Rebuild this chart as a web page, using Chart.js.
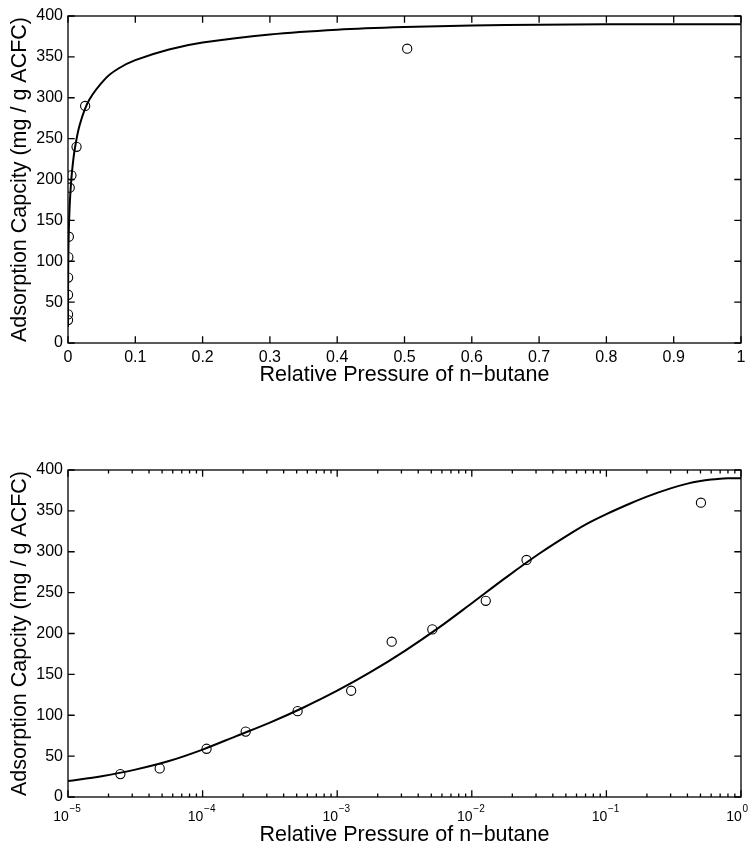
<!DOCTYPE html>
<html><head><meta charset="utf-8">
<script src="https://cdn.jsdelivr.net/npm/chart.js@4"></script>
<style>
html,body{margin:0;padding:0;background:#fff;}
#wrap{position:relative;width:752px;height:846px;overflow:hidden;}
.box{position:absolute;left:0;width:752px;height:423px;}
canvas{display:block;}
</style></head><body>
<div id="wrap">
<div class="box" style="top:0"><canvas id="c1" width="752" height="423"></canvas></div>
<div class="box" style="top:423px"><canvas id="c2" width="752" height="423"></canvas></div>
</div>
<script>
// measured data points
const pressure = [2.45e-5, 4.8e-5, 1.07e-4, 2.09e-4, 5.08e-4, 1.27e-3, 2.54e-3, 5.09e-3, 1.27e-2, 2.55e-2, 0.504];
const capacity = [28, 35, 59, 80, 105, 130, 190, 205, 240, 290, 360];

// fitted curve
const fitPressure = [1e-5, 1.778e-5, 3.162e-5, 5.623e-5, 1e-4, 1.778e-4, 3.162e-4, 5.623e-4,
  1e-3, 1.778e-3, 3.162e-3, 5.623e-3, 1e-2, 1.778e-2, 3.162e-2, 5.623e-2, 0.075, 0.1,
  0.15, 0.2, 0.3, 0.4, 0.5, 0.6, 0.7, 0.8, 0.9, 1.0];
const fitCapacity = [19.5, 25.5, 33.5, 44, 58, 74.5, 91, 109.5,
  130, 153, 178.5, 206.5, 237, 268, 297.5, 324, 335.8, 346,
  359, 367.5, 377.5, 383.3, 386.5, 388.3, 389.3, 389.8, 390, 390];

// tick labels
const yTickLabels = ['0','50','100','150','200','250','300','350','400'];
const xLinTickLabels = ['0','0.1','0.2','0.3','0.4','0.5','0.6','0.7','0.8','0.9','1'];
const logMajorValues = [1e-5, 1e-4, 1e-3, 1e-2, 1e-1, 1];
const logExponents = ['\u22125','\u22124','\u22123','\u22122','\u22121','0'];

const xTitle = 'Relative Pressure of n\u2212butane';
const yTitle = 'Adsorption Capcity (mg / g ACFC)';

const FAMILY = "'Liberation Sans', Arial, Helvetica, sans-serif";
const MAJ = 6.7, MIN = 3.5;

function boxPlugin(isLog){
  return {
    id: 'matlabBox',
    afterDatasetsDraw(chart){
      const {ctx, chartArea: a, scales: {x, y}} = chart;
      ctx.save();
      ctx.strokeStyle = '#000';
      ctx.lineWidth = 1.3;
      ctx.beginPath();
      y.ticks.forEach(t => {
        const py = y.getPixelForValue(t.value);
        ctx.moveTo(a.left, py); ctx.lineTo(a.left + MAJ, py);
        ctx.moveTo(a.right, py); ctx.lineTo(a.right - MAJ, py);
      });
      if (isLog) {
        const e0 = Math.floor(Math.log10(x.min) + 1e-9);
        const e1 = Math.round(Math.log10(x.max));
        for (let e = e0; e <= e1; e++) {
          for (let k = 1; k < 10; k++) {
            const v = k * Math.pow(10, e);
            if (v < x.min * 0.999 || v > x.max * 1.001) continue;
            const px = x.getPixelForValue(v);
            const L = k === 1 ? MAJ : MIN;
            ctx.moveTo(px, a.bottom); ctx.lineTo(px, a.bottom - L);
            ctx.moveTo(px, a.top); ctx.lineTo(px, a.top + L);
          }
        }
      } else {
        x.ticks.forEach(t => {
          const px = x.getPixelForValue(t.value);
          ctx.moveTo(px, a.bottom); ctx.lineTo(px, a.bottom - MAJ);
          ctx.moveTo(px, a.top); ctx.lineTo(px, a.top + MAJ);
        });
      }
      ctx.stroke();
      ctx.strokeRect(a.left, a.top, a.right - a.left, a.bottom - a.top);
      if (isLog) {
        ctx.fillStyle = '#000';
        ctx.textBaseline = 'middle';
        logMajorValues.forEach((v, i) => {
          const px = x.getPixelForValue(v);
          ctx.font = '14px ' + FAMILY;
          ctx.textAlign = 'right';
          ctx.fillText('10', px + 0.8, a.bottom + 20.5);
          ctx.font = '10px ' + FAMILY;
          ctx.textAlign = 'left';
          ctx.fillText(logExponents[i], px + 1.5, a.bottom + 12);
        });
      }
      ctx.restore();
    }
  };
}

function makeChart(id, isLog){
  const points = pressure.map((p, i) => ({x: p, y: capacity[i]}));
  const curve = fitPressure.map((p, i) => ({x: p, y: fitCapacity[i]}));
  const titleFont = {family: FAMILY, size: 21.5, lineHeight: 1};
  const tickFont = {family: FAMILY, size: 16};
  return new Chart(document.getElementById(id), {
    type: 'line',
    data: {
      datasets: [
        {label: 'data', data: points, showLine: false, pointStyle: 'circle', pointRadius: 4.6,
         pointBorderWidth: 1.1, pointBorderColor: '#000', pointBackgroundColor: 'rgba(0,0,0,0)',
         pointHoverRadius: 4.6},
        {label: 'fit', data: curve, showLine: true, pointRadius: 0, borderColor: '#000', borderWidth: 2,
         tension: 0.35, fill: false}
      ]
    },
    options: {
      responsive: false,
      animation: false,
      devicePixelRatio: 1,
      events: [],
      layout: {padding: {top: isLog ? 47 : 16, right: 11, left: 0, bottom: 0}},
      plugins: {legend: {display: false}, tooltip: {enabled: false}},
      scales: {
        x: isLog ? {
          type: 'logarithmic', min: 1e-5, max: 1, position: 'bottom',
          ticks: {display: false},
          grid: {display: false, drawTicks: false}, border: {display: false},
          title: {display: true, text: xTitle, color: '#000', font: titleFont, padding: {top: 0, bottom: 0}},
          afterFit(s){ s.height = 49; }
        } : {
          type: 'linear', min: 0, max: 1, position: 'bottom',
          ticks: {stepSize: 0.1, padding: 5, color: '#000', font: tickFont, maxRotation: 0, autoSkip: false,
                  callback: (v) => xLinTickLabels[Math.round(v * 10)]},
          grid: {display: false, drawTicks: false}, border: {display: false},
          title: {display: true, text: xTitle, color: '#000', font: titleFont, padding: {top: 0, bottom: 37}},
          afterFit(s){ s.height = 80; }
        },
        y: {
          type: 'linear', min: 0, max: 400, position: 'left',
          ticks: {stepSize: 50, padding: 5, color: '#000', font: tickFont,
                  callback: (v) => yTickLabels[Math.round(v / 50)]},
          grid: {display: false, drawTicks: false}, border: {display: false},
          title: {display: true, text: yTitle, color: '#000', font: titleFont, padding: {top: 9, bottom: 0}},
          afterFit(s){ s.width = 68; }
        }
      }
    },
    plugins: [boxPlugin(isLog)]
  });
}
makeChart('c1', false);
makeChart('c2', true);
</script>
</body></html>
